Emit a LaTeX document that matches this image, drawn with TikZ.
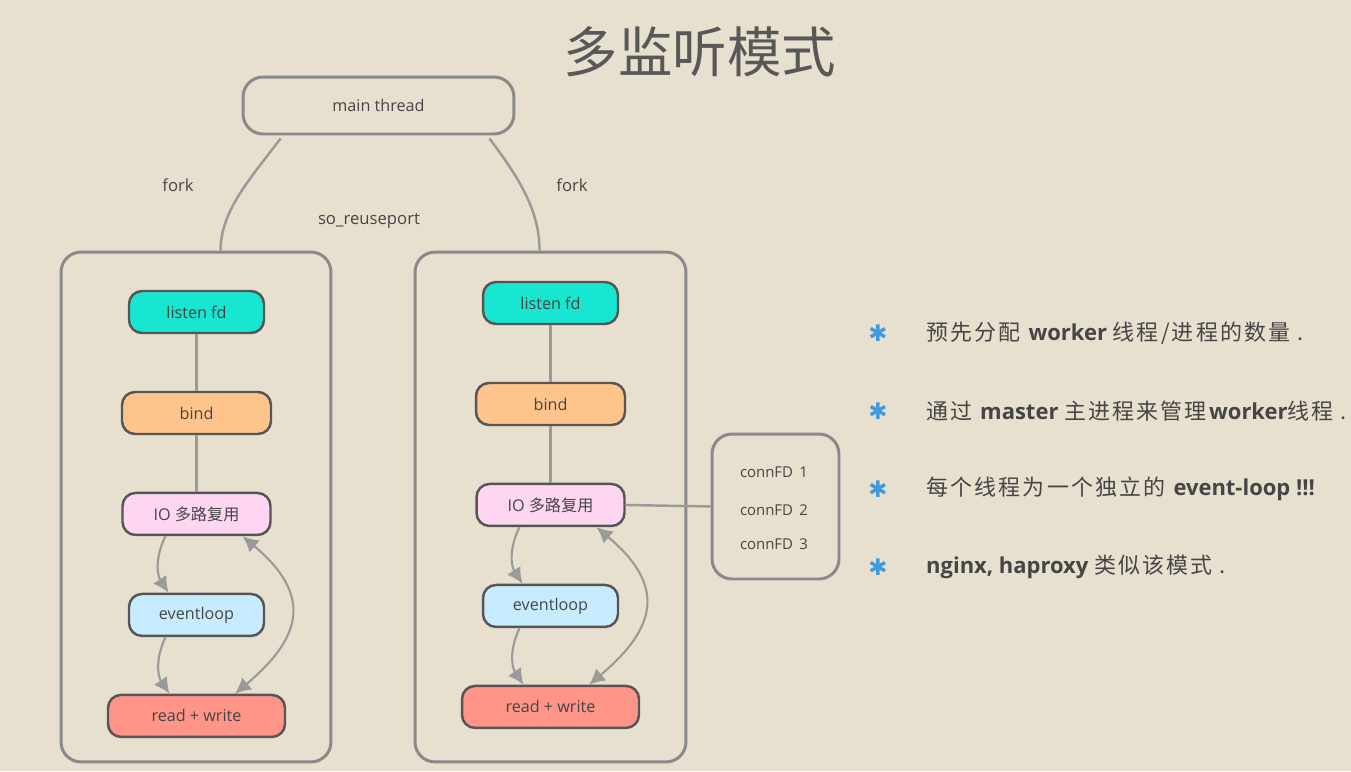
\documentclass[tikz,border=0pt]{standalone}
\usepackage{fontspec}
\setmainfont{Open Sans}
\newfontfamily\cjk{Noto Sans CJK SC}
\newfontfamily\cjkwide[LetterSpace=10]{Noto Sans CJK SC}
\newfontfamily\symfont{DejaVu Sans}
\usetikzlibrary{arrows.meta,calc}

\definecolor{bgc}{HTML}{E8E0CE}
\definecolor{nodeline}{HTML}{555555}
\definecolor{boxline}{HTML}{8A8A8A}
\definecolor{linkc}{HTML}{9A9A9A}
\definecolor{txt}{HTML}{454545}
\definecolor{listenc}{HTML}{17E6D0}
\definecolor{bindc}{HTML}{FFC48C}
\definecolor{ioc}{HTML}{FFD6F2}
\definecolor{evc}{HTML}{C8ECFF}
\definecolor{rwc}{HTML}{FF9489}
\definecolor{starc}{HTML}{3D9BDE}

\tikzstyle{term} = [draw=nodeline, line width=1.4pt, rounded corners=0.26cm,%
                    text=txt, minimum height=0.84cm, font=\fontsize{9.2}{10}\selectfont, anchor=center]
\tikzstyle{frame} = [draw=boxline, line width=1.7pt, rounded corners=0.4cm]
\tikzstyle{link} = [draw=linkc, line width=1.2pt]
\tikzstyle{arr} = [link, -{Latex[length=9pt,width=9pt]}]
\tikzstyle{lbl} = [text=txt, font=\fontsize{9.5}{11}\selectfont]
\tikzstyle{note} = [text=txt, anchor=west, font=\fontsize{12.5}{14}\selectfont]

\begin{document}
\begin{tikzpicture}[x=0.02cm, y=-0.02cm, node distance=2.02cm]

	\path[use as bounding box, fill=bgc] (0,0) rectangle (1351,771);

	\node (title) [text=txt!90, font=\cjk\fontsize{31}{33}\selectfont] at (700,52) {多监听模式};

	\node (mainThread) [frame, minimum width=5.42cm, minimum height=1.14cm, text=txt, font=\fontsize{9.2}{10}\selectfont] at (378.5,105.5) {main thread};

	\node (leftBox)  [frame, minimum width=5.4cm, minimum height=10.2cm] at (196,507) {};
	\node (rightBox) [frame, minimum width=5.42cm, minimum height=10.2cm] at (550.5,507) {};

	\node (forkL) [lbl] at (178,185) {fork};
	\node (forkR) [lbl] at (572,185) {fork};
	\node (reuse) [lbl] at (369,221) {so\_reuseport};

	% left worker
	\node (listenL) [term, fill=listenc, minimum width=2.7cm] at (196.5,312) {listen fd};
	\node (bindL)   [term, fill=bindc, minimum width=2.98cm, below of=listenL] {bind};
	\node (ioL)     [term, fill=ioc, minimum width=2.96cm, below of=bindL] {IO {\cjk 多路复用}};
	\node (evL)     [term, fill=evc, minimum width=2.7cm, below of=ioL] {eventloop};
	\node (rwL)     [term, fill=rwc, minimum width=3.54cm, below of=evL] {read + write};

	% right worker
	\node (listenR) [term, fill=listenc, minimum width=2.7cm] at (550.5,303) {listen fd};
	\node (bindR)   [term, fill=bindc, minimum width=2.98cm, below of=listenR] {bind};
	\node (ioR)     [term, fill=ioc, minimum width=2.96cm, below of=bindR] {IO {\cjk 多路复用}};
	\node (evR)     [term, fill=evc, minimum width=2.7cm, below of=ioR] {eventloop};
	\node (rwR)     [term, fill=rwc, minimum width=3.54cm, below of=evR] {read + write};

	\node (connBox) [frame, minimum width=2.54cm, minimum height=2.9cm] at (775.5,506.5) {};
	\node (conn1) [text=txt, font=\fontsize{8.5}{10}\selectfont] at (774,472) {connFD\, 1};
	\node (conn2) [text=txt, font=\fontsize{8.5}{10}\selectfont] at (774,510) {connFD\, 2};
	\node (conn3) [text=txt, font=\fontsize{8.5}{10}\selectfont] at (774,544) {connFD\, 3};

	\draw[link, line width=1.4pt] ($(mainThread.south west)+(39,3)$) .. controls +(-30,40) and +(0,-40) .. ($(leftBox.north west)+(161,0)$);
	\draw[link, line width=1.4pt] ($(mainThread.south east)+(-26,3)$) .. controls +(30,40) and +(0,-40) .. ($(rightBox.north west)+(126,0)$);

	\draw[link] (listenL) -- (bindL);
	\draw[link] (bindL) -- (ioL);
	\draw[arr] ([xshift=-0.62cm]ioL.south) to[bend right=30] ([xshift=-0.56cm]evL.north);
	\draw[arr] ([xshift=-0.62cm]evL.south) to[bend right=30] ([xshift=-0.54cm]rwL.north);
	\draw[arr, {Latex[length=9pt,width=9pt]}-{Latex[length=9pt,width=9pt]}] ([xshift=0.77cm]rwL.north) .. controls +(40:1.8cm) and +(-40:1.8cm) .. ([xshift=0.92cm]ioL.south);

	\draw[link] (listenR) -- (bindR);
	\draw[link] (bindR) -- (ioR);
	\draw[arr] ([xshift=-0.62cm]ioR.south) to[bend right=30] ([xshift=-0.56cm]evR.north);
	\draw[arr] ([xshift=-0.62cm]evR.south) to[bend right=30] ([xshift=-0.54cm]rwR.north);
	\draw[arr, {Latex[length=9pt,width=9pt]}-{Latex[length=9pt,width=9pt]}] ([xshift=0.77cm]rwR.north) .. controls +(40:1.8cm) and +(-40:1.8cm) .. ([xshift=0.92cm]ioR.south);

	\draw[link, line width=1.4pt] (connBox.west) -- (ioR.east);

	% notes
	\node (star1) [text=starc, font=\symfont\fontsize{13}{14}\selectfont] at (878,333) {✱};
	\node (star2) [text=starc, font=\symfont\fontsize{13}{14}\selectfont] at (878,411) {✱};
	\node (star3) [text=starc, font=\symfont\fontsize{13}{14}\selectfont] at (878,489) {✱};
	\node (star4) [text=starc, font=\symfont\fontsize{13}{14}\selectfont] at (878,567) {✱};

	\node (note1) [note] at (920,333) {{\cjkwide 预先分配} \textbf{worker} {\cjkwide 线程/进程的数量 .}};
	\node (note2) [note] at (920,411) {{\cjkwide 通过} \textbf{master} {\cjkwide 主进程来管理}\textbf{worker}{\cjkwide 线程 .}};
	\node (note3) [note] at (920,489) {{\cjkwide 每个线程为一个独立的} \textbf{event-loop !!!}};
	\node (note4) [note] at (920,567) {\textbf{nginx, haproxy} {\cjkwide 类似该模式 .}};

\end{tikzpicture}
\end{document}
